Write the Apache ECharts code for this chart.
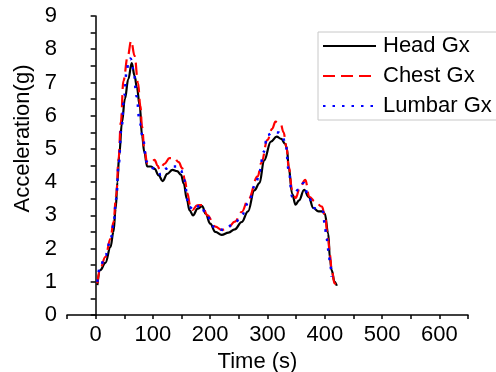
<!DOCTYPE html>
<html>
<head>
<meta charset="utf-8">
<style>
  html, body { margin: 0; padding: 0; background: #fff; }
  #chart { width: 496px; height: 372px; }
</style>
</head>
<body>
<div id="chart"></div>
<script src="https://cdn.jsdelivr.net/npm/echarts@6/dist/echarts.min.js"></script>
<script>
// [time (s), acceleration (g)]
var headGx = [[3,0.9],[8,1.35],[17,1.57],[26,2.05],[31,2.5],[35,3.2],[38,4.0],[41,4.8],[46,5.8],[51,6.5],[57,7.1],[63,7.58],[68,7.2],[72,6.85],[77,6.3],[81,5.4],[85,4.9],[90,4.47],[97,4.47],[103,4.4],[110,4.2],[117,4.03],[125,4.25],[134,4.37],[142,4.33],[149,4.22],[154,3.95],[159,3.5],[164,3.15],[170,3.0],[178,3.2],[186,3.28],[192,3.05],[200,2.75],[209,2.5],[220,2.41],[232,2.48],[243,2.58],[255,2.8],[266,3.12],[277,3.75],[286,3.97],[294,4.65],[306,5.22],[316,5.37],[324,5.3],[331,5.15],[334,5.0],[337,4.45],[343,3.65],[349,3.32],[355,3.45],[364,3.77],[372,3.55],[380,3.22],[389,3.12],[395,3.12],[400,3.05],[406,2.45],[409,1.7],[412,1.35],[417,1.0],[421,0.88]];
var chestGx = [[3,0.95],[8,1.4],[17,1.75],[26,2.3],[31,2.8],[36,3.6],[40,4.7],[44,5.8],[48.5,7.05],[56,7.78],[62,8.25],[68,7.8],[74,6.98],[78,6.3],[81,5.67],[85,5.0],[90,4.57],[97,4.6],[103,4.67],[108,4.5],[112,4.37],[120,4.55],[129,4.72],[137,4.72],[145,4.6],[151,4.42],[156,4.05],[160,3.67],[165,3.3],[169,3.16],[177,3.3],[186,3.31],[195,3.0],[209,2.66],[220,2.56],[232,2.65],[243,2.81],[255,3.1],[266,3.46],[283,4.17],[289,4.57],[300,5.27],[308,5.6],[314,5.82],[323,5.75],[328,5.5],[333,5.07],[337,4.47],[343,3.77],[349,3.52],[357,3.86],[366,4.07],[373,3.56],[383,3.41],[395,3.26],[400,3.01],[406,2.26],[409,1.8],[412,1.36],[417,0.95],[424,0.85]];
var lumbarGx = [[3,1.0],[7,1.4],[17,1.8],[26,2.25],[31,2.7],[36,3.5],[40,4.5],[45,5.6],[50,6.6],[54,7.33],[58,7.68],[61,7.72],[66,7.4],[71.5,6.58],[77,5.77],[83,5.27],[88.6,4.62],[100,4.42],[107,4.35],[114,4.22],[122,4.4],[129,4.47],[143,4.47],[149,4.35],[154,4.07],[163,3.26],[171.5,3.16],[183,3.31],[195,2.95],[209,2.61],[223,2.56],[243,2.76],[255,3.0],[266,3.36],[280,3.97],[286,4.32],[293,4.9],[300,5.42],[310,5.5],[320,5.49],[326,5.35],[331.5,5.17],[337,4.37],[343,3.56],[354,3.77],[363,3.97],[372,3.52],[383,3.21],[397,3.11],[400,2.71],[403,2.31],[407,1.91],[409,1.56],[412,1.15]];
var seriesNames = ['Head Gx', 'Chest Gx', 'Lumbar Gx'];

var font = "'Liberation Sans', Arial, sans-serif";
var chart = echarts.init(document.getElementById('chart'));

var mkSeries = function(name, data, color, type, width) {
  return {
    name: name,
    type: 'line',
    data: data,
    symbol: 'none',
    smooth: 0.4,
    smoothMonotone: 'x',
    lineStyle: { color: color, width: width, type: type },
    itemStyle: { color: color }
  };
};

chart.setOption({
  animation: false,
  backgroundColor: '#fff',
  grid: { left: 67, right: 28, top: 16, bottom: 57, outerBoundsMode: 'none' },
  legend: {
    orient: 'vertical',
    left: 318,
    top: 32,
    padding: [3, 20, 3, 4],
    itemGap: 8,
    itemWidth: 53,
    itemHeight: 14,
    borderColor: '#c8c8c8',
    borderWidth: 1,
    backgroundColor: '#fff',
    itemStyle: { opacity: 0 },
    textStyle: { fontFamily: font, fontSize: 22, color: '#000', padding: [0, 0, 0, 2] },
    data: seriesNames
  },
  xAxis: {
    type: 'value',
    min: -50,
    max: 650,
    interval: 50,
    name: 'Time (s)',
    nameLocation: 'middle',
    nameGap: 28,
    nameTextStyle: { fontFamily: font, fontSize: 22, color: '#000', padding: [0, 20, 0, 0] },
    axisLine: { show: true, lineStyle: { color: '#000', width: 1.5 } },
    axisTick: { show: true, length: 4, lineStyle: { color: '#000', width: 1.5 } },
    axisLabel: {
      fontFamily: font, fontSize: 22, color: '#000', margin: 9,
      formatter: function(v) { return (v >= 0 && v <= 600 && v % 100 === 0) ? v : ''; }
    },
    splitLine: { show: false }
  },
  yAxis: {
    type: 'value',
    min: 0,
    max: 9,
    interval: 1,
    name: 'Acceleration(g)',
    nameLocation: 'middle',
    nameGap: 32,
    nameTextStyle: { fontFamily: font, fontSize: 22, color: '#000', padding: [0, 0, 0, 54] },
    axisLine: { show: true, lineStyle: { color: '#000', width: 1.5 } },
    axisTick: { show: true, length: 5, lineStyle: { color: '#000', width: 1.5 } },
    minorTick: { show: true, splitNumber: 2, length: 5, lineStyle: { color: '#000', width: 1.5 } },
    axisLabel: { fontFamily: font, fontSize: 22, color: '#000', margin: 10 },
    splitLine: { show: false }
  },
  series: [
    mkSeries(seriesNames[0], headGx, '#000000', 'solid', 2.2),
    mkSeries(seriesNames[1], chestGx, '#ff0000', [12, 6], 2.2),
    mkSeries(seriesNames[2], lumbarGx, '#0000ff', [2.5, 7], 2.5)
  ]
});
</script>
</body>
</html>
